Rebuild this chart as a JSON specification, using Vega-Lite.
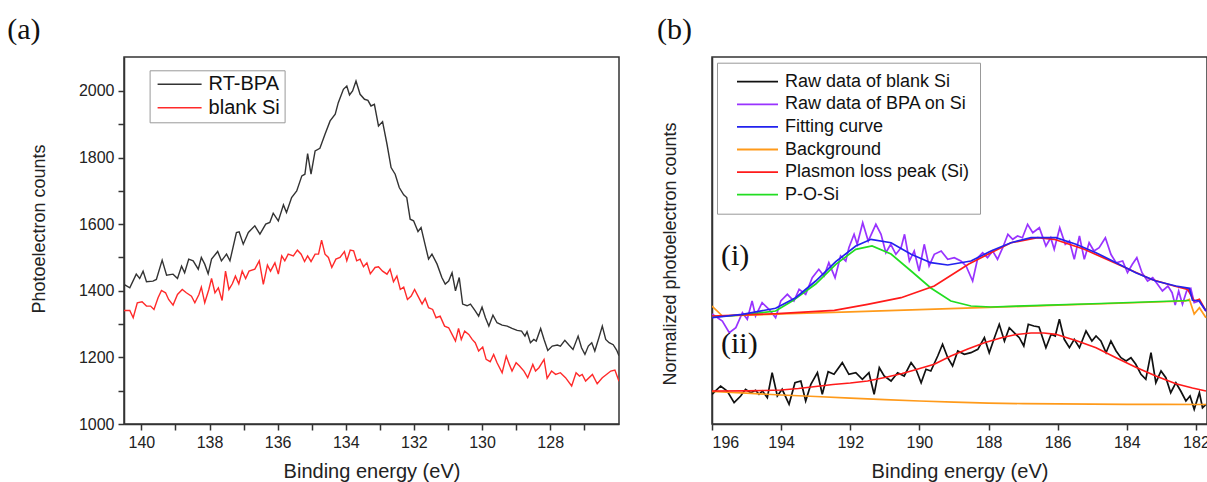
{
  "$schema": "https://vega.github.io/schema/vega-lite/v6.json",
  "background": "white",
  "padding": {"left": 6, "top": 14, "right": 0, "bottom": 0},
  "bounds": "flush",
  "spacing": 93,
  "resolve": {"scale": {"color": "independent"}, "legend": {"color": "independent"}},
  "config": {
    "view": {"stroke": "#333333", "strokeWidth": 1.5},
    "font": "Liberation Sans",
    "axis": {"labelFont": "Liberation Sans", "labelFontSize": 16, "labelColor": "#222222", "titleFont": "Liberation Sans", "titleFontSize": 20, "titleFontWeight": "normal", "titleColor": "#222222", "domainColor": "#333333", "domainWidth": 1.5, "tickColor": "#333333", "tickWidth": 1.5, "tickSize": 6, "grid": false, "labelPadding": 4},
    "legend": {"labelFont": "Liberation Sans", "labelColor": "#111111", "symbolType": "stroke", "strokeColor": "#999999", "labelLimit": 400}
  },
  "datasets": {
    "a": [
      {"e":140.51,"v":1419,"s":"RT-BPA"},{"e":140.34,"v":1409,"s":"RT-BPA"},{"e":140.15,"v":1450,"s":"RT-BPA"},{"e":140.05,"v":1437,"s":"RT-BPA"},{"e":139.95,"v":1459,"s":"RT-BPA"},{"e":139.85,"v":1427,"s":"RT-BPA"},{"e":139.66,"v":1429,"s":"RT-BPA"},{"e":139.56,"v":1434,"s":"RT-BPA"},{"e":139.39,"v":1492,"s":"RT-BPA"},{"e":139.26,"v":1447,"s":"RT-BPA"},{"e":139.07,"v":1450,"s":"RT-BPA"},{"e":138.94,"v":1437,"s":"RT-BPA"},{"e":138.82,"v":1474,"s":"RT-BPA"},{"e":138.73,"v":1454,"s":"RT-BPA"},{"e":138.61,"v":1495,"s":"RT-BPA"},{"e":138.48,"v":1490,"s":"RT-BPA"},{"e":138.33,"v":1465,"s":"RT-BPA"},{"e":138.24,"v":1500,"s":"RT-BPA"},{"e":138.14,"v":1480,"s":"RT-BPA"},{"e":138.04,"v":1451,"s":"RT-BPA"},{"e":137.94,"v":1495,"s":"RT-BPA"},{"e":137.76,"v":1518,"s":"RT-BPA"},{"e":137.65,"v":1490,"s":"RT-BPA"},{"e":137.50,"v":1510,"s":"RT-BPA"},{"e":137.40,"v":1490,"s":"RT-BPA"},{"e":137.21,"v":1575,"s":"RT-BPA"},{"e":137.13,"v":1577,"s":"RT-BPA"},{"e":137.01,"v":1540,"s":"RT-BPA"},{"e":136.86,"v":1575,"s":"RT-BPA"},{"e":136.67,"v":1595,"s":"RT-BPA"},{"e":136.52,"v":1570,"s":"RT-BPA"},{"e":136.35,"v":1600,"s":"RT-BPA"},{"e":136.23,"v":1605,"s":"RT-BPA"},{"e":136.13,"v":1633,"s":"RT-BPA"},{"e":135.98,"v":1610,"s":"RT-BPA"},{"e":135.83,"v":1658,"s":"RT-BPA"},{"e":135.74,"v":1635,"s":"RT-BPA"},{"e":135.59,"v":1680,"s":"RT-BPA"},{"e":135.44,"v":1700,"s":"RT-BPA"},{"e":135.29,"v":1745,"s":"RT-BPA"},{"e":135.20,"v":1750,"s":"RT-BPA"},{"e":135.12,"v":1812,"s":"RT-BPA"},{"e":135.02,"v":1750,"s":"RT-BPA"},{"e":134.90,"v":1820,"s":"RT-BPA"},{"e":134.76,"v":1828,"s":"RT-BPA"},{"e":134.61,"v":1870,"s":"RT-BPA"},{"e":134.46,"v":1910,"s":"RT-BPA"},{"e":134.31,"v":1930,"s":"RT-BPA"},{"e":134.22,"v":1965,"s":"RT-BPA"},{"e":134.07,"v":2005,"s":"RT-BPA"},{"e":133.97,"v":2015,"s":"RT-BPA"},{"e":133.89,"v":1988,"s":"RT-BPA"},{"e":133.80,"v":2000,"s":"RT-BPA"},{"e":133.70,"v":2030,"s":"RT-BPA"},{"e":133.58,"v":1990,"s":"RT-BPA"},{"e":133.45,"v":1975,"s":"RT-BPA"},{"e":133.35,"v":1972,"s":"RT-BPA"},{"e":133.26,"v":1955,"s":"RT-BPA"},{"e":133.16,"v":1960,"s":"RT-BPA"},{"e":133.04,"v":1895,"s":"RT-BPA"},{"e":132.92,"v":1908,"s":"RT-BPA"},{"e":132.79,"v":1840,"s":"RT-BPA"},{"e":132.67,"v":1770,"s":"RT-BPA"},{"e":132.55,"v":1750,"s":"RT-BPA"},{"e":132.43,"v":1710,"s":"RT-BPA"},{"e":132.30,"v":1688,"s":"RT-BPA"},{"e":132.21,"v":1680,"s":"RT-BPA"},{"e":132.11,"v":1615,"s":"RT-BPA"},{"e":132.01,"v":1610,"s":"RT-BPA"},{"e":131.88,"v":1578,"s":"RT-BPA"},{"e":131.79,"v":1590,"s":"RT-BPA"},{"e":131.67,"v":1538,"s":"RT-BPA"},{"e":131.57,"v":1495,"s":"RT-BPA"},{"e":131.47,"v":1510,"s":"RT-BPA"},{"e":131.32,"v":1480,"s":"RT-BPA"},{"e":131.18,"v":1440,"s":"RT-BPA"},{"e":131.08,"v":1420,"s":"RT-BPA"},{"e":130.98,"v":1429,"s":"RT-BPA"},{"e":130.88,"v":1454,"s":"RT-BPA"},{"e":130.78,"v":1400,"s":"RT-BPA"},{"e":130.67,"v":1440,"s":"RT-BPA"},{"e":130.57,"v":1360,"s":"RT-BPA"},{"e":130.44,"v":1355,"s":"RT-BPA"},{"e":130.34,"v":1360,"s":"RT-BPA"},{"e":130.20,"v":1340,"s":"RT-BPA"},{"e":130.10,"v":1324,"s":"RT-BPA"},{"e":130.00,"v":1351,"s":"RT-BPA"},{"e":129.90,"v":1319,"s":"RT-BPA"},{"e":129.80,"v":1294,"s":"RT-BPA"},{"e":129.68,"v":1327,"s":"RT-BPA"},{"e":129.56,"v":1304,"s":"RT-BPA"},{"e":129.41,"v":1297,"s":"RT-BPA"},{"e":129.26,"v":1294,"s":"RT-BPA"},{"e":129.12,"v":1287,"s":"RT-BPA"},{"e":128.97,"v":1281,"s":"RT-BPA"},{"e":128.84,"v":1279,"s":"RT-BPA"},{"e":128.74,"v":1264,"s":"RT-BPA"},{"e":128.68,"v":1277,"s":"RT-BPA"},{"e":128.58,"v":1244,"s":"RT-BPA"},{"e":128.48,"v":1254,"s":"RT-BPA"},{"e":128.41,"v":1249,"s":"RT-BPA"},{"e":128.28,"v":1287,"s":"RT-BPA"},{"e":128.18,"v":1254,"s":"RT-BPA"},{"e":128.07,"v":1221,"s":"RT-BPA"},{"e":127.94,"v":1234,"s":"RT-BPA"},{"e":127.79,"v":1237,"s":"RT-BPA"},{"e":127.70,"v":1234,"s":"RT-BPA"},{"e":127.57,"v":1251,"s":"RT-BPA"},{"e":127.45,"v":1237,"s":"RT-BPA"},{"e":127.33,"v":1224,"s":"RT-BPA"},{"e":127.18,"v":1264,"s":"RT-BPA"},{"e":127.08,"v":1229,"s":"RT-BPA"},{"e":126.98,"v":1209,"s":"RT-BPA"},{"e":126.88,"v":1234,"s":"RT-BPA"},{"e":126.78,"v":1244,"s":"RT-BPA"},{"e":126.69,"v":1219,"s":"RT-BPA"},{"e":126.57,"v":1259,"s":"RT-BPA"},{"e":126.47,"v":1294,"s":"RT-BPA"},{"e":126.37,"v":1254,"s":"RT-BPA"},{"e":126.27,"v":1244,"s":"RT-BPA"},{"e":126.15,"v":1238,"s":"RT-BPA"},{"e":126.05,"v":1222,"s":"RT-BPA"},{"e":125.98,"v":1205,"s":"RT-BPA"},
      {"e":140.51,"v":1341,"s":"blank Si"},{"e":140.34,"v":1341,"s":"blank Si"},{"e":140.24,"v":1319,"s":"blank Si"},{"e":140.12,"v":1364,"s":"blank Si"},{"e":139.98,"v":1367,"s":"blank Si"},{"e":139.85,"v":1354,"s":"blank Si"},{"e":139.73,"v":1354,"s":"blank Si"},{"e":139.63,"v":1344,"s":"blank Si"},{"e":139.51,"v":1379,"s":"blank Si"},{"e":139.41,"v":1401,"s":"blank Si"},{"e":139.29,"v":1394,"s":"blank Si"},{"e":139.20,"v":1374,"s":"blank Si"},{"e":139.07,"v":1357,"s":"blank Si"},{"e":138.94,"v":1389,"s":"blank Si"},{"e":138.80,"v":1404,"s":"blank Si"},{"e":138.68,"v":1394,"s":"blank Si"},{"e":138.53,"v":1384,"s":"blank Si"},{"e":138.43,"v":1364,"s":"blank Si"},{"e":138.31,"v":1389,"s":"blank Si"},{"e":138.24,"v":1411,"s":"blank Si"},{"e":138.14,"v":1364,"s":"blank Si"},{"e":138.02,"v":1404,"s":"blank Si"},{"e":137.94,"v":1437,"s":"blank Si"},{"e":137.84,"v":1394,"s":"blank Si"},{"e":137.74,"v":1409,"s":"blank Si"},{"e":137.63,"v":1371,"s":"blank Si"},{"e":137.53,"v":1459,"s":"blank Si"},{"e":137.43,"v":1404,"s":"blank Si"},{"e":137.33,"v":1421,"s":"blank Si"},{"e":137.24,"v":1444,"s":"blank Si"},{"e":137.14,"v":1421,"s":"blank Si"},{"e":137.04,"v":1459,"s":"blank Si"},{"e":136.94,"v":1437,"s":"blank Si"},{"e":136.84,"v":1459,"s":"blank Si"},{"e":136.67,"v":1465,"s":"blank Si"},{"e":136.54,"v":1490,"s":"blank Si"},{"e":136.42,"v":1419,"s":"blank Si"},{"e":136.30,"v":1477,"s":"blank Si"},{"e":136.21,"v":1459,"s":"blank Si"},{"e":136.08,"v":1484,"s":"blank Si"},{"e":135.98,"v":1450,"s":"blank Si"},{"e":135.88,"v":1505,"s":"blank Si"},{"e":135.79,"v":1490,"s":"blank Si"},{"e":135.69,"v":1510,"s":"blank Si"},{"e":135.54,"v":1505,"s":"blank Si"},{"e":135.42,"v":1522,"s":"blank Si"},{"e":135.31,"v":1510,"s":"blank Si"},{"e":135.21,"v":1488,"s":"blank Si"},{"e":135.12,"v":1505,"s":"blank Si"},{"e":135.02,"v":1488,"s":"blank Si"},{"e":134.90,"v":1510,"s":"blank Si"},{"e":134.80,"v":1510,"s":"blank Si"},{"e":134.71,"v":1552,"s":"blank Si"},{"e":134.61,"v":1510,"s":"blank Si"},{"e":134.51,"v":1500,"s":"blank Si"},{"e":134.41,"v":1470,"s":"blank Si"},{"e":134.29,"v":1495,"s":"blank Si"},{"e":134.17,"v":1500,"s":"blank Si"},{"e":134.04,"v":1518,"s":"blank Si"},{"e":133.97,"v":1490,"s":"blank Si"},{"e":133.87,"v":1522,"s":"blank Si"},{"e":133.77,"v":1520,"s":"blank Si"},{"e":133.68,"v":1490,"s":"blank Si"},{"e":133.58,"v":1495,"s":"blank Si"},{"e":133.48,"v":1472,"s":"blank Si"},{"e":133.38,"v":1484,"s":"blank Si"},{"e":133.28,"v":1451,"s":"blank Si"},{"e":133.14,"v":1470,"s":"blank Si"},{"e":133.04,"v":1472,"s":"blank Si"},{"e":132.92,"v":1459,"s":"blank Si"},{"e":132.79,"v":1450,"s":"blank Si"},{"e":132.70,"v":1465,"s":"blank Si"},{"e":132.60,"v":1427,"s":"blank Si"},{"e":132.50,"v":1444,"s":"blank Si"},{"e":132.40,"v":1404,"s":"blank Si"},{"e":132.30,"v":1411,"s":"blank Si"},{"e":132.19,"v":1374,"s":"blank Si"},{"e":132.08,"v":1384,"s":"blank Si"},{"e":131.98,"v":1404,"s":"blank Si"},{"e":131.88,"v":1384,"s":"blank Si"},{"e":131.76,"v":1360,"s":"blank Si"},{"e":131.67,"v":1377,"s":"blank Si"},{"e":131.57,"v":1349,"s":"blank Si"},{"e":131.45,"v":1344,"s":"blank Si"},{"e":131.35,"v":1319,"s":"blank Si"},{"e":131.23,"v":1324,"s":"blank Si"},{"e":131.10,"v":1294,"s":"blank Si"},{"e":130.98,"v":1289,"s":"blank Si"},{"e":130.88,"v":1269,"s":"blank Si"},{"e":130.78,"v":1249,"s":"blank Si"},{"e":130.69,"v":1287,"s":"blank Si"},{"e":130.61,"v":1254,"s":"blank Si"},{"e":130.51,"v":1279,"s":"blank Si"},{"e":130.39,"v":1269,"s":"blank Si"},{"e":130.29,"v":1254,"s":"blank Si"},{"e":130.20,"v":1244,"s":"blank Si"},{"e":130.10,"v":1219,"s":"blank Si"},{"e":129.98,"v":1231,"s":"blank Si"},{"e":129.88,"v":1194,"s":"blank Si"},{"e":129.76,"v":1187,"s":"blank Si"},{"e":129.66,"v":1209,"s":"blank Si"},{"e":129.56,"v":1184,"s":"blank Si"},{"e":129.41,"v":1154,"s":"blank Si"},{"e":129.29,"v":1204,"s":"blank Si"},{"e":129.20,"v":1179,"s":"blank Si"},{"e":129.12,"v":1159,"s":"blank Si"},{"e":129.00,"v":1184,"s":"blank Si"},{"e":128.90,"v":1174,"s":"blank Si"},{"e":128.77,"v":1159,"s":"blank Si"},{"e":128.66,"v":1139,"s":"blank Si"},{"e":128.51,"v":1179,"s":"blank Si"},{"e":128.43,"v":1159,"s":"blank Si"},{"e":128.33,"v":1169,"s":"blank Si"},{"e":128.18,"v":1194,"s":"blank Si"},{"e":128.09,"v":1137,"s":"blank Si"},{"e":127.96,"v":1159,"s":"blank Si"},{"e":127.84,"v":1149,"s":"blank Si"},{"e":127.70,"v":1154,"s":"blank Si"},{"e":127.55,"v":1139,"s":"blank Si"},{"e":127.37,"v":1114,"s":"blank Si"},{"e":127.24,"v":1154,"s":"blank Si"},{"e":127.14,"v":1144,"s":"blank Si"},{"e":127.06,"v":1149,"s":"blank Si"},{"e":126.96,"v":1129,"s":"blank Si"},{"e":126.76,"v":1149,"s":"blank Si"},{"e":126.62,"v":1121,"s":"blank Si"},{"e":126.47,"v":1139,"s":"blank Si"},{"e":126.32,"v":1151,"s":"blank Si"},{"e":126.22,"v":1159,"s":"blank Si"},{"e":126.10,"v":1162,"s":"blank Si"},{"e":125.98,"v":1128,"s":"blank Si"}
    ],
    "b": [
      {"e":196.00,"v":110,"s":"Raw data of BPA on Si","g":"i"},{"e":195.70,"v":103,"s":"Raw data of BPA on Si","g":"i"},{"e":195.50,"v":91.3,"s":"Raw data of BPA on Si","g":"i"},{"e":195.31,"v":96.3,"s":"Raw data of BPA on Si","g":"i"},{"e":195.12,"v":111.3,"s":"Raw data of BPA on Si","g":"i"},{"e":194.98,"v":104.7,"s":"Raw data of BPA on Si","g":"i"},{"e":194.84,"v":123,"s":"Raw data of BPA on Si","g":"i"},{"e":194.74,"v":108,"s":"Raw data of BPA on Si","g":"i"},{"e":194.55,"v":121.3,"s":"Raw data of BPA on Si","g":"i"},{"e":194.35,"v":114.7,"s":"Raw data of BPA on Si","g":"i"},{"e":194.16,"v":106.3,"s":"Raw data of BPA on Si","g":"i"},{"e":194.01,"v":123,"s":"Raw data of BPA on Si","g":"i"},{"e":193.82,"v":129.7,"s":"Raw data of BPA on Si","g":"i"},{"e":193.63,"v":123,"s":"Raw data of BPA on Si","g":"i"},{"e":193.48,"v":134.7,"s":"Raw data of BPA on Si","g":"i"},{"e":193.29,"v":129.7,"s":"Raw data of BPA on Si","g":"i"},{"e":193.10,"v":146.3,"s":"Raw data of BPA on Si","g":"i"},{"e":192.91,"v":154.7,"s":"Raw data of BPA on Si","g":"i"},{"e":192.76,"v":148,"s":"Raw data of BPA on Si","g":"i"},{"e":192.62,"v":161.3,"s":"Raw data of BPA on Si","g":"i"},{"e":192.44,"v":146.3,"s":"Raw data of BPA on Si","g":"i"},{"e":192.28,"v":168,"s":"Raw data of BPA on Si","g":"i"},{"e":192.13,"v":163,"s":"Raw data of BPA on Si","g":"i"},{"e":192.04,"v":176.3,"s":"Raw data of BPA on Si","g":"i"},{"e":191.89,"v":189.7,"s":"Raw data of BPA on Si","g":"i"},{"e":191.80,"v":179.7,"s":"Raw data of BPA on Si","g":"i"},{"e":191.64,"v":201.3,"s":"Raw data of BPA on Si","g":"i"},{"e":191.48,"v":183,"s":"Raw data of BPA on Si","g":"i"},{"e":191.26,"v":199.7,"s":"Raw data of BPA on Si","g":"i"},{"e":191.11,"v":189.7,"s":"Raw data of BPA on Si","g":"i"},{"e":190.97,"v":171.3,"s":"Raw data of BPA on Si","g":"i"},{"e":190.83,"v":179.7,"s":"Raw data of BPA on Si","g":"i"},{"e":190.68,"v":169.7,"s":"Raw data of BPA on Si","g":"i"},{"e":190.53,"v":176.3,"s":"Raw data of BPA on Si","g":"i"},{"e":190.43,"v":189.7,"s":"Raw data of BPA on Si","g":"i"},{"e":190.29,"v":163,"s":"Raw data of BPA on Si","g":"i"},{"e":190.15,"v":173,"s":"Raw data of BPA on Si","g":"i"},{"e":190.01,"v":153,"s":"Raw data of BPA on Si","g":"i"},{"e":189.86,"v":179.7,"s":"Raw data of BPA on Si","g":"i"},{"e":189.72,"v":158,"s":"Raw data of BPA on Si","g":"i"},{"e":189.57,"v":169.7,"s":"Raw data of BPA on Si","g":"i"},{"e":189.37,"v":173,"s":"Raw data of BPA on Si","g":"i"},{"e":189.18,"v":164.7,"s":"Raw data of BPA on Si","g":"i"},{"e":188.99,"v":166.3,"s":"Raw data of BPA on Si","g":"i"},{"e":188.80,"v":163,"s":"Raw data of BPA on Si","g":"i"},{"e":188.65,"v":158,"s":"Raw data of BPA on Si","g":"i"},{"e":188.46,"v":143,"s":"Raw data of BPA on Si","g":"i"},{"e":188.31,"v":166.3,"s":"Raw data of BPA on Si","g":"i"},{"e":188.17,"v":171.3,"s":"Raw data of BPA on Si","g":"i"},{"e":188.03,"v":166.3,"s":"Raw data of BPA on Si","g":"i"},{"e":187.88,"v":173,"s":"Raw data of BPA on Si","g":"i"},{"e":187.74,"v":164.7,"s":"Raw data of BPA on Si","g":"i"},{"e":187.59,"v":176.3,"s":"Raw data of BPA on Si","g":"i"},{"e":187.44,"v":189.7,"s":"Raw data of BPA on Si","g":"i"},{"e":187.30,"v":184.7,"s":"Raw data of BPA on Si","g":"i"},{"e":187.16,"v":188,"s":"Raw data of BPA on Si","g":"i"},{"e":187.02,"v":186.3,"s":"Raw data of BPA on Si","g":"i"},{"e":186.87,"v":199.7,"s":"Raw data of BPA on Si","g":"i"},{"e":186.72,"v":191.3,"s":"Raw data of BPA on Si","g":"i"},{"e":186.53,"v":196.3,"s":"Raw data of BPA on Si","g":"i"},{"e":186.34,"v":178,"s":"Raw data of BPA on Si","g":"i"},{"e":186.20,"v":186.3,"s":"Raw data of BPA on Si","g":"i"},{"e":186.10,"v":174.7,"s":"Raw data of BPA on Si","g":"i"},{"e":185.94,"v":196.3,"s":"Raw data of BPA on Si","g":"i"},{"e":185.78,"v":179.7,"s":"Raw data of BPA on Si","g":"i"},{"e":185.66,"v":183,"s":"Raw data of BPA on Si","g":"i"},{"e":185.52,"v":164.7,"s":"Raw data of BPA on Si","g":"i"},{"e":185.37,"v":188,"s":"Raw data of BPA on Si","g":"i"},{"e":185.23,"v":164.7,"s":"Raw data of BPA on Si","g":"i"},{"e":185.09,"v":181.3,"s":"Raw data of BPA on Si","g":"i"},{"e":184.95,"v":173,"s":"Raw data of BPA on Si","g":"i"},{"e":184.80,"v":176.3,"s":"Raw data of BPA on Si","g":"i"},{"e":184.62,"v":186.3,"s":"Raw data of BPA on Si","g":"i"},{"e":184.46,"v":169.7,"s":"Raw data of BPA on Si","g":"i"},{"e":184.31,"v":161.3,"s":"Raw data of BPA on Si","g":"i"},{"e":184.12,"v":163,"s":"Raw data of BPA on Si","g":"i"},{"e":183.98,"v":151.3,"s":"Raw data of BPA on Si","g":"i"},{"e":183.84,"v":159.7,"s":"Raw data of BPA on Si","g":"i"},{"e":183.71,"v":166.3,"s":"Raw data of BPA on Si","g":"i"},{"e":183.56,"v":151.3,"s":"Raw data of BPA on Si","g":"i"},{"e":183.40,"v":143,"s":"Raw data of BPA on Si","g":"i"},{"e":183.25,"v":146.3,"s":"Raw data of BPA on Si","g":"i"},{"e":183.11,"v":139.7,"s":"Raw data of BPA on Si","g":"i"},{"e":182.97,"v":133,"s":"Raw data of BPA on Si","g":"i"},{"e":182.81,"v":138,"s":"Raw data of BPA on Si","g":"i"},{"e":182.69,"v":131.3,"s":"Raw data of BPA on Si","g":"i"},{"e":182.60,"v":119,"s":"Raw data of BPA on Si","g":"i"},{"e":182.50,"v":133,"s":"Raw data of BPA on Si","g":"i"},{"e":182.39,"v":119.7,"s":"Raw data of BPA on Si","g":"i"},{"e":182.27,"v":133,"s":"Raw data of BPA on Si","g":"i"},{"e":182.15,"v":135.7,"s":"Raw data of BPA on Si","g":"i"},{"e":182.05,"v":121.3,"s":"Raw data of BPA on Si","g":"i"},{"e":181.91,"v":123,"s":"Raw data of BPA on Si","g":"i"},{"e":181.71,"v":113,"s":"Raw data of BPA on Si","g":"i"},
      {"e":196.00,"v":118,"s":"Background","g":"i"},{"e":195.70,"v":108,"s":"Background","g":"i"},{"e":194.0,"v":110,"s":"Background","g":"i"},{"e":192.0,"v":112.2,"s":"Background","g":"i"},{"e":190.0,"v":114.4,"s":"Background","g":"i"},{"e":188.0,"v":116.6,"s":"Background","g":"i"},{"e":186.0,"v":118.8,"s":"Background","g":"i"},{"e":184.0,"v":121,"s":"Background","g":"i"},{"e":182.30,"v":123,"s":"Background","g":"i"},{"e":182.19,"v":124.7,"s":"Background","g":"i"},{"e":182.05,"v":110,"s":"Background","g":"i"},{"e":181.90,"v":116.3,"s":"Background","g":"i"},{"e":181.71,"v":106.3,"s":"Background","g":"i"},
      {"e":196.00,"v":107,"s":"P-O-Si","g":"i"},{"e":195.13,"v":109,"s":"P-O-Si","g":"i"},{"e":194.16,"v":113,"s":"P-O-Si","g":"i"},{"e":193.68,"v":123,"s":"P-O-Si","g":"i"},{"e":193.00,"v":140,"s":"P-O-Si","g":"i"},{"e":192.42,"v":159.7,"s":"P-O-Si","g":"i"},{"e":191.84,"v":174.7,"s":"P-O-Si","g":"i"},{"e":191.37,"v":178,"s":"P-O-Si","g":"i"},{"e":190.82,"v":170,"s":"P-O-Si","g":"i"},{"e":190.24,"v":153,"s":"P-O-Si","g":"i"},{"e":189.67,"v":136,"s":"P-O-Si","g":"i"},{"e":189.09,"v":123,"s":"P-O-Si","g":"i"},{"e":188.51,"v":118,"s":"P-O-Si","g":"i"},{"e":187.93,"v":117,"s":"P-O-Si","g":"i"},{"e":184.75,"v":120.5,"s":"P-O-Si","g":"i"},{"e":182.19,"v":123.5,"s":"P-O-Si","g":"i"},
      {"e":196.00,"v":108,"s":"Plasmon loss peak (Si)","g":"i"},{"e":194.10,"v":110.3,"s":"Plasmon loss peak (Si)","g":"i"},{"e":192.46,"v":113.7,"s":"Plasmon loss peak (Si)","g":"i"},{"e":191.50,"v":119.7,"s":"Plasmon loss peak (Si)","g":"i"},{"e":190.53,"v":126.3,"s":"Plasmon loss peak (Si)","g":"i"},{"e":189.57,"v":138,"s":"Plasmon loss peak (Si)","g":"i"},{"e":188.57,"v":160,"s":"Plasmon loss peak (Si)","g":"i"},{"e":187.93,"v":171.3,"s":"Plasmon loss peak (Si)","g":"i"},{"e":187.35,"v":181.3,"s":"Plasmon loss peak (Si)","g":"i"},{"e":186.58,"v":186.3,"s":"Plasmon loss peak (Si)","g":"i"},{"e":186.10,"v":184.7,"s":"Plasmon loss peak (Si)","g":"i"},{"e":185.23,"v":174.7,"s":"Plasmon loss peak (Si)","g":"i"},{"e":184.26,"v":159.7,"s":"Plasmon loss peak (Si)","g":"i"},{"e":183.30,"v":144.7,"s":"Plasmon loss peak (Si)","g":"i"},{"e":182.63,"v":138,"s":"Plasmon loss peak (Si)","g":"i"},{"e":182.24,"v":134.7,"s":"Plasmon loss peak (Si)","g":"i"},{"e":182.05,"v":123,"s":"Plasmon loss peak (Si)","g":"i"},{"e":181.90,"v":124.7,"s":"Plasmon loss peak (Si)","g":"i"},{"e":181.71,"v":113,"s":"Plasmon loss peak (Si)","g":"i"},
      {"e":196.00,"v":106.3,"s":"Fitting curve","g":"i"},{"e":195.12,"v":109.7,"s":"Fitting curve","g":"i"},{"e":194.16,"v":115.7,"s":"Fitting curve","g":"i"},{"e":193.58,"v":126.3,"s":"Fitting curve","g":"i"},{"e":193.00,"v":143,"s":"Fitting curve","g":"i"},{"e":192.42,"v":162.3,"s":"Fitting curve","g":"i"},{"e":191.84,"v":178,"s":"Fitting curve","g":"i"},{"e":191.40,"v":184.7,"s":"Fitting curve","g":"i"},{"e":190.82,"v":181.3,"s":"Fitting curve","g":"i"},{"e":190.24,"v":169.7,"s":"Fitting curve","g":"i"},{"e":189.67,"v":161.3,"s":"Fitting curve","g":"i"},{"e":189.18,"v":159,"s":"Fitting curve","g":"i"},{"e":188.51,"v":163,"s":"Fitting curve","g":"i"},{"e":187.93,"v":173,"s":"Fitting curve","g":"i"},{"e":187.35,"v":181.3,"s":"Fitting curve","g":"i"},{"e":186.77,"v":186.3,"s":"Fitting curve","g":"i"},{"e":186.05,"v":186.3,"s":"Fitting curve","g":"i"},{"e":185.47,"v":179.7,"s":"Fitting curve","g":"i"},{"e":184.89,"v":171.3,"s":"Fitting curve","g":"i"},{"e":184.31,"v":161.3,"s":"Fitting curve","g":"i"},{"e":183.74,"v":151.3,"s":"Fitting curve","g":"i"},{"e":183.16,"v":143,"s":"Fitting curve","g":"i"},{"e":182.58,"v":138,"s":"Fitting curve","g":"i"},{"e":182.19,"v":135.7,"s":"Fitting curve","g":"i"},{"e":182.10,"v":123.7,"s":"Fitting curve","g":"i"},{"e":181.90,"v":123,"s":"Fitting curve","g":"i"},{"e":181.71,"v":113,"s":"Fitting curve","g":"i"},
      {"e":196.00,"v":29.7,"s":"Raw data of blank Si","g":"ii"},{"e":195.75,"v":38,"s":"Raw data of blank Si","g":"ii"},{"e":195.56,"v":33,"s":"Raw data of blank Si","g":"ii"},{"e":195.36,"v":21.3,"s":"Raw data of blank Si","g":"ii"},{"e":195.17,"v":28,"s":"Raw data of blank Si","g":"ii"},{"e":195.03,"v":34.7,"s":"Raw data of blank Si","g":"ii"},{"e":194.88,"v":31.3,"s":"Raw data of blank Si","g":"ii"},{"e":194.74,"v":33.7,"s":"Raw data of blank Si","g":"ii"},{"e":194.64,"v":29.7,"s":"Raw data of blank Si","g":"ii"},{"e":194.54,"v":33,"s":"Raw data of blank Si","g":"ii"},{"e":194.40,"v":26.3,"s":"Raw data of blank Si","g":"ii"},{"e":194.26,"v":51.3,"s":"Raw data of blank Si","g":"ii"},{"e":194.11,"v":28,"s":"Raw data of blank Si","g":"ii"},{"e":193.97,"v":34.7,"s":"Raw data of blank Si","g":"ii"},{"e":193.77,"v":19.7,"s":"Raw data of blank Si","g":"ii"},{"e":193.60,"v":41.3,"s":"Raw data of blank Si","g":"ii"},{"e":193.43,"v":43,"s":"Raw data of blank Si","g":"ii"},{"e":193.29,"v":23,"s":"Raw data of blank Si","g":"ii"},{"e":193.14,"v":39.7,"s":"Raw data of blank Si","g":"ii"},{"e":192.95,"v":51.3,"s":"Raw data of blank Si","g":"ii"},{"e":192.81,"v":29.7,"s":"Raw data of blank Si","g":"ii"},{"e":192.64,"v":52.3,"s":"Raw data of blank Si","g":"ii"},{"e":192.47,"v":49.7,"s":"Raw data of blank Si","g":"ii"},{"e":192.23,"v":61.3,"s":"Raw data of blank Si","g":"ii"},{"e":192.04,"v":49.7,"s":"Raw data of blank Si","g":"ii"},{"e":191.84,"v":51.3,"s":"Raw data of blank Si","g":"ii"},{"e":191.65,"v":44.7,"s":"Raw data of blank Si","g":"ii"},{"e":191.46,"v":51.3,"s":"Raw data of blank Si","g":"ii"},{"e":191.31,"v":29.7,"s":"Raw data of blank Si","g":"ii"},{"e":191.16,"v":56.3,"s":"Raw data of blank Si","g":"ii"},{"e":191.02,"v":48,"s":"Raw data of blank Si","g":"ii"},{"e":190.82,"v":43,"s":"Raw data of blank Si","g":"ii"},{"e":190.63,"v":51.3,"s":"Raw data of blank Si","g":"ii"},{"e":190.44,"v":48,"s":"Raw data of blank Si","g":"ii"},{"e":190.24,"v":61.3,"s":"Raw data of blank Si","g":"ii"},{"e":190.10,"v":54.7,"s":"Raw data of blank Si","g":"ii"},{"e":189.95,"v":41.3,"s":"Raw data of blank Si","g":"ii"},{"e":189.81,"v":54.7,"s":"Raw data of blank Si","g":"ii"},{"e":189.67,"v":53,"s":"Raw data of blank Si","g":"ii"},{"e":189.47,"v":68,"s":"Raw data of blank Si","g":"ii"},{"e":189.33,"v":79.7,"s":"Raw data of blank Si","g":"ii"},{"e":189.18,"v":66.3,"s":"Raw data of blank Si","g":"ii"},{"e":189.04,"v":58,"s":"Raw data of blank Si","g":"ii"},{"e":188.89,"v":73,"s":"Raw data of blank Si","g":"ii"},{"e":188.70,"v":69.7,"s":"Raw data of blank Si","g":"ii"},{"e":188.51,"v":71.3,"s":"Raw data of blank Si","g":"ii"},{"e":188.31,"v":74.7,"s":"Raw data of blank Si","g":"ii"},{"e":188.12,"v":86.3,"s":"Raw data of blank Si","g":"ii"},{"e":187.98,"v":71.3,"s":"Raw data of blank Si","g":"ii"},{"e":187.83,"v":86.3,"s":"Raw data of blank Si","g":"ii"},{"e":187.69,"v":99.7,"s":"Raw data of blank Si","g":"ii"},{"e":187.54,"v":83,"s":"Raw data of blank Si","g":"ii"},{"e":187.40,"v":96.3,"s":"Raw data of blank Si","g":"ii"},{"e":187.26,"v":91.3,"s":"Raw data of blank Si","g":"ii"},{"e":187.11,"v":86.3,"s":"Raw data of blank Si","g":"ii"},{"e":186.98,"v":78,"s":"Raw data of blank Si","g":"ii"},{"e":186.85,"v":99.7,"s":"Raw data of blank Si","g":"ii"},{"e":186.69,"v":98,"s":"Raw data of blank Si","g":"ii"},{"e":186.54,"v":97,"s":"Raw data of blank Si","g":"ii"},{"e":186.34,"v":76.3,"s":"Raw data of blank Si","g":"ii"},{"e":186.19,"v":89.7,"s":"Raw data of blank Si","g":"ii"},{"e":186.07,"v":88,"s":"Raw data of blank Si","g":"ii"},{"e":185.95,"v":104.7,"s":"Raw data of blank Si","g":"ii"},{"e":185.81,"v":84.7,"s":"Raw data of blank Si","g":"ii"},{"e":185.66,"v":76.3,"s":"Raw data of blank Si","g":"ii"},{"e":185.52,"v":84.7,"s":"Raw data of blank Si","g":"ii"},{"e":185.37,"v":76.3,"s":"Raw data of blank Si","g":"ii"},{"e":185.18,"v":93,"s":"Raw data of blank Si","g":"ii"},{"e":185.01,"v":83,"s":"Raw data of blank Si","g":"ii"},{"e":184.89,"v":88,"s":"Raw data of blank Si","g":"ii"},{"e":184.75,"v":83,"s":"Raw data of blank Si","g":"ii"},{"e":184.60,"v":71.3,"s":"Raw data of blank Si","g":"ii"},{"e":184.46,"v":83,"s":"Raw data of blank Si","g":"ii"},{"e":184.31,"v":73,"s":"Raw data of blank Si","g":"ii"},{"e":184.17,"v":66.3,"s":"Raw data of blank Si","g":"ii"},{"e":184.02,"v":63,"s":"Raw data of blank Si","g":"ii"},{"e":183.88,"v":66.3,"s":"Raw data of blank Si","g":"ii"},{"e":183.74,"v":59.7,"s":"Raw data of blank Si","g":"ii"},{"e":183.59,"v":49.7,"s":"Raw data of blank Si","g":"ii"},{"e":183.45,"v":44.7,"s":"Raw data of blank Si","g":"ii"},{"e":183.30,"v":71.3,"s":"Raw data of blank Si","g":"ii"},{"e":183.16,"v":41.3,"s":"Raw data of blank Si","g":"ii"},{"e":183.01,"v":53,"s":"Raw data of blank Si","g":"ii"},{"e":182.87,"v":46.3,"s":"Raw data of blank Si","g":"ii"},{"e":182.73,"v":31.3,"s":"Raw data of blank Si","g":"ii"},{"e":182.58,"v":41.3,"s":"Raw data of blank Si","g":"ii"},{"e":182.44,"v":33,"s":"Raw data of blank Si","g":"ii"},{"e":182.29,"v":23,"s":"Raw data of blank Si","g":"ii"},{"e":182.17,"v":28,"s":"Raw data of blank Si","g":"ii"},{"e":182.05,"v":14.7,"s":"Raw data of blank Si","g":"ii"},{"e":181.90,"v":31.3,"s":"Raw data of blank Si","g":"ii"},{"e":181.81,"v":16.3,"s":"Raw data of blank Si","g":"ii"},{"e":181.71,"v":19.7,"s":"Raw data of blank Si","g":"ii"},
      {"e":196.0,"v":32.5,"s":"Background","g":"ii"},{"e":195.0,"v":30.8,"s":"Background","g":"ii"},{"e":194.0,"v":29,"s":"Background","g":"ii"},{"e":193.0,"v":27.5,"s":"Background","g":"ii"},{"e":192.0,"v":25.8,"s":"Background","g":"ii"},{"e":191.0,"v":24.3,"s":"Background","g":"ii"},{"e":190.0,"v":23,"s":"Background","g":"ii"},{"e":189.0,"v":21.8,"s":"Background","g":"ii"},{"e":188.0,"v":20.9,"s":"Background","g":"ii"},{"e":187.0,"v":20.4,"s":"Background","g":"ii"},{"e":186.0,"v":20.1,"s":"Background","g":"ii"},{"e":185.0,"v":19.9,"s":"Background","g":"ii"},{"e":184.0,"v":19.7,"s":"Background","g":"ii"},{"e":183.0,"v":19.6,"s":"Background","g":"ii"},{"e":181.71,"v":19.5,"s":"Background","g":"ii"},
      {"e":196.0,"v":33,"s":"Plasmon loss peak (Si)","g":"ii"},{"e":195.0,"v":33.2,"s":"Plasmon loss peak (Si)","g":"ii"},{"e":194.5,"v":33.5,"s":"Plasmon loss peak (Si)","g":"ii"},{"e":194.0,"v":34,"s":"Plasmon loss peak (Si)","g":"ii"},{"e":193.5,"v":35.5,"s":"Plasmon loss peak (Si)","g":"ii"},{"e":193.0,"v":37.5,"s":"Plasmon loss peak (Si)","g":"ii"},{"e":192.5,"v":39.5,"s":"Plasmon loss peak (Si)","g":"ii"},{"e":192.0,"v":41,"s":"Plasmon loss peak (Si)","g":"ii"},{"e":191.5,"v":43,"s":"Plasmon loss peak (Si)","g":"ii"},{"e":191.0,"v":46.5,"s":"Plasmon loss peak (Si)","g":"ii"},{"e":190.5,"v":50.5,"s":"Plasmon loss peak (Si)","g":"ii"},{"e":190.24,"v":53,"s":"Plasmon loss peak (Si)","g":"ii"},{"e":189.57,"v":59.7,"s":"Plasmon loss peak (Si)","g":"ii"},{"e":189.09,"v":68,"s":"Plasmon loss peak (Si)","g":"ii"},{"e":188.6,"v":75,"s":"Plasmon loss peak (Si)","g":"ii"},{"e":188.12,"v":81.3,"s":"Plasmon loss peak (Si)","g":"ii"},{"e":187.6,"v":86.5,"s":"Plasmon loss peak (Si)","g":"ii"},{"e":187.2,"v":89.5,"s":"Plasmon loss peak (Si)","g":"ii"},{"e":186.77,"v":91,"s":"Plasmon loss peak (Si)","g":"ii"},{"e":186.4,"v":91,"s":"Plasmon loss peak (Si)","g":"ii"},{"e":186.05,"v":89.7,"s":"Plasmon loss peak (Si)","g":"ii"},{"e":185.71,"v":86,"s":"Plasmon loss peak (Si)","g":"ii"},{"e":185.47,"v":83.5,"s":"Plasmon loss peak (Si)","g":"ii"},{"e":184.89,"v":76.3,"s":"Plasmon loss peak (Si)","g":"ii"},{"e":184.31,"v":66.3,"s":"Plasmon loss peak (Si)","g":"ii"},{"e":183.74,"v":56.8,"s":"Plasmon loss peak (Si)","g":"ii"},{"e":183.16,"v":48,"s":"Plasmon loss peak (Si)","g":"ii"},{"e":182.58,"v":40.3,"s":"Plasmon loss peak (Si)","g":"ii"},{"e":182.1,"v":36,"s":"Plasmon loss peak (Si)","g":"ii"},{"e":181.71,"v":33,"s":"Plasmon loss peak (Si)","g":"ii"}
    ],
    "lbl": [
      {"e":195.74,"v":159,"t":"(i)"},
      {"e":195.74,"v":71,"t":"(ii)"}
    ]
  },
  "hconcat": [
    {
      "width": 495,
      "height": 367,
      "title": {"text": "(a)", "anchor": "start", "frame": "group", "dx": -116.7, "offset": 12, "font": "Liberation Serif", "fontSize": 30, "fontWeight": "normal", "color": "#111111"},
      "data": {"name": "a"},
      "mark": {"type": "line", "strokeWidth": 1.4, "clip": true},
      "encoding": {
        "x": {"field": "e", "type": "quantitative", "scale": {"domain": [125.98, 140.51], "reverse": true, "nice": false, "zero": false},
              "axis": {"values": [127,128,129,130,131,132,133,134,135,136,137,138,139,140], "labelExpr": "datum.value % 2 == 0 ? datum.label : ''", "format": "d", "title": "Binding energy (eV)", "titlePadding": 11}},
        "y": {"field": "v", "type": "quantitative", "scale": {"domain": [1000, 2102], "nice": false, "zero": false},
              "axis": {"values": [1000,1100,1200,1300,1400,1500,1600,1700,1800,1900,2000], "labelExpr": "datum.value % 200 == 0 ? datum.label : ''", "format": "d", "title": "Photoelectron counts", "titleFontSize": 18, "titleY": 171.5, "titlePadding": 30}},
        "color": {"field": "s", "type": "nominal", "scale": {"domain": ["RT-BPA", "blank Si"], "range": ["#333333", "#ff2a2a"]},
                  "legend": {"title": null, "orient": "none", "legendX": 25.6, "legendY": 13.3, "symbolSize": 1936, "symbolStrokeWidth": 1.5, "clipHeight": 20, "labelFontSize": 20, "labelOffset": 6, "padding": 4, "symbolOffset": 3, "rowPadding": 3.4}}
      }
    },
    {
      "width": 495,
      "height": 367,
      "title": {"text": "(b)", "anchor": "start", "frame": "group", "dx": -55, "offset": 12, "font": "Liberation Serif", "fontSize": 30, "fontWeight": "normal", "color": "#111111"},
      "layer": [
        {
          "data": {"name": "b"},
          "mark": {"type": "line", "strokeWidth": 1.7, "clip": true},
          "encoding": {
            "x": {"field": "e", "type": "quantitative", "scale": {"domain": [181.68, 196], "reverse": true, "nice": false, "zero": false},
                  "axis": {"values": [182,183,184,185,186,187,188,189,190,191,192,193,194,195,196], "labelExpr": "datum.value % 2 == 0 ? datum.label : ''", "format": "d", "title": "Binding energy (eV)", "titlePadding": 11}},
            "y": {"field": "v", "type": "quantitative", "scale": {"domain": [0, 367], "nice": false, "zero": false},
                  "axis": {"ticks": false, "labels": false, "title": "Normalized photoelectron counts", "titleFontSize": 18, "titleY": 196.5, "titlePadding": 33}},
            "color": {"field": "s", "type": "nominal", "scale": {"domain": ["Raw data of blank Si", "Raw data of BPA on Si", "Fitting curve", "Background", "Plasmon loss peak (Si)", "P-O-Si"], "range": ["#111111", "#9933ff", "#2222ee", "#ff9a1a", "#ff1a1a", "#22dd22"]},
                      "legend": {"title": null, "orient": "none", "legendX": 5, "legendY": 5.7, "symbolSize": 1681, "symbolStrokeWidth": 1.8, "clipHeight": 18, "labelFontSize": 18, "labelOffset": 6, "padding": 10, "symbolOffset": 9, "rowPadding": 4.6}},
            "detail": {"field": "g", "type": "nominal"}
          }
        },
        {
          "data": {"name": "lbl"},
          "mark": {"type": "text", "font": "Liberation Serif", "fontSize": 30, "align": "left", "baseline": "alphabetic", "color": "#111111"},
          "encoding": {
            "x": {"field": "e", "type": "quantitative"},
            "y": {"field": "v", "type": "quantitative"},
            "text": {"field": "t", "type": "nominal"}
          }
        }
      ]
    }
  ]
}
